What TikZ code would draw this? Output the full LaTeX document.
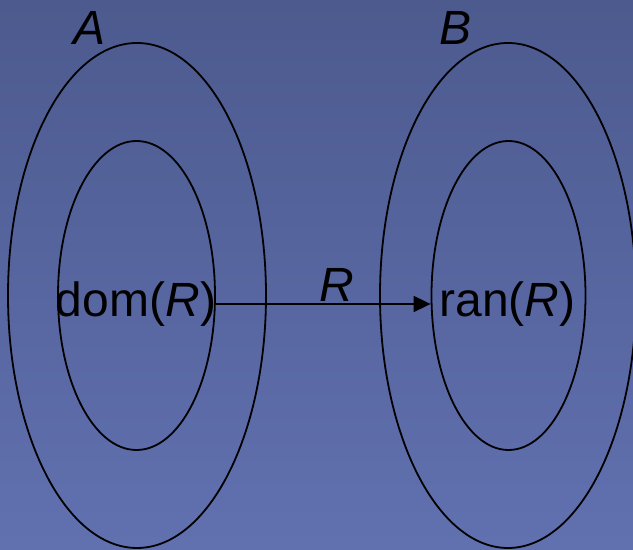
\documentclass[tikz,border=0pt]{standalone}
\usepackage{fontspec}
\setmainfont{Liberation Sans}
\usetikzlibrary{shapes.geometric, arrows.meta}

\definecolor{bgtop}{RGB}{76,90,142}
\definecolor{bgbot}{RGB}{97,113,176}

\begin{document}
\begin{tikzpicture}[x=0.5pt, y=-0.5pt, >={Triangle[length=8.5pt, width=8pt]},
  set/.style={ellipse, draw, line width=0.9pt, inner sep=0pt},
  lbl/.style={inner sep=0pt, font=\fontsize{24}{29}\selectfont}]
\shade[top color=bgtop, bottom color=bgbot] (0,0) rectangle (633,550);
\useasboundingbox (0,0) rectangle (633,550);

\node[set, minimum width=129pt, minimum height=252.5pt] (A) at (137,295.5) {};
\node[set, minimum width=78.5pt, minimum height=154.5pt] (domset) at (136.5,295.5) {};
\node[set, minimum width=128pt, minimum height=252.5pt] (B) at (508,295.5) {};
\node[set, minimum width=77pt, minimum height=154.5pt] (ranset) at (508.5,295.5) {};

\node[lbl] (Alabel) at (90,28) {\textit{A}};
\node[lbl] (Blabel) at (456,28) {\textit{B}};

\node[lbl] (dom) at (136,304) {dom(\textit{R})};
\node[lbl] (ran) at (507.5,304) {ran(\textit{R})};

\draw[->, line width=0.9pt] (dom.east) -- (dom.east -| ranset.west)
  node[lbl, pos=0.56, above=1pt] (Rlabel) {\textit{R}};
\end{tikzpicture}
\end{document}
